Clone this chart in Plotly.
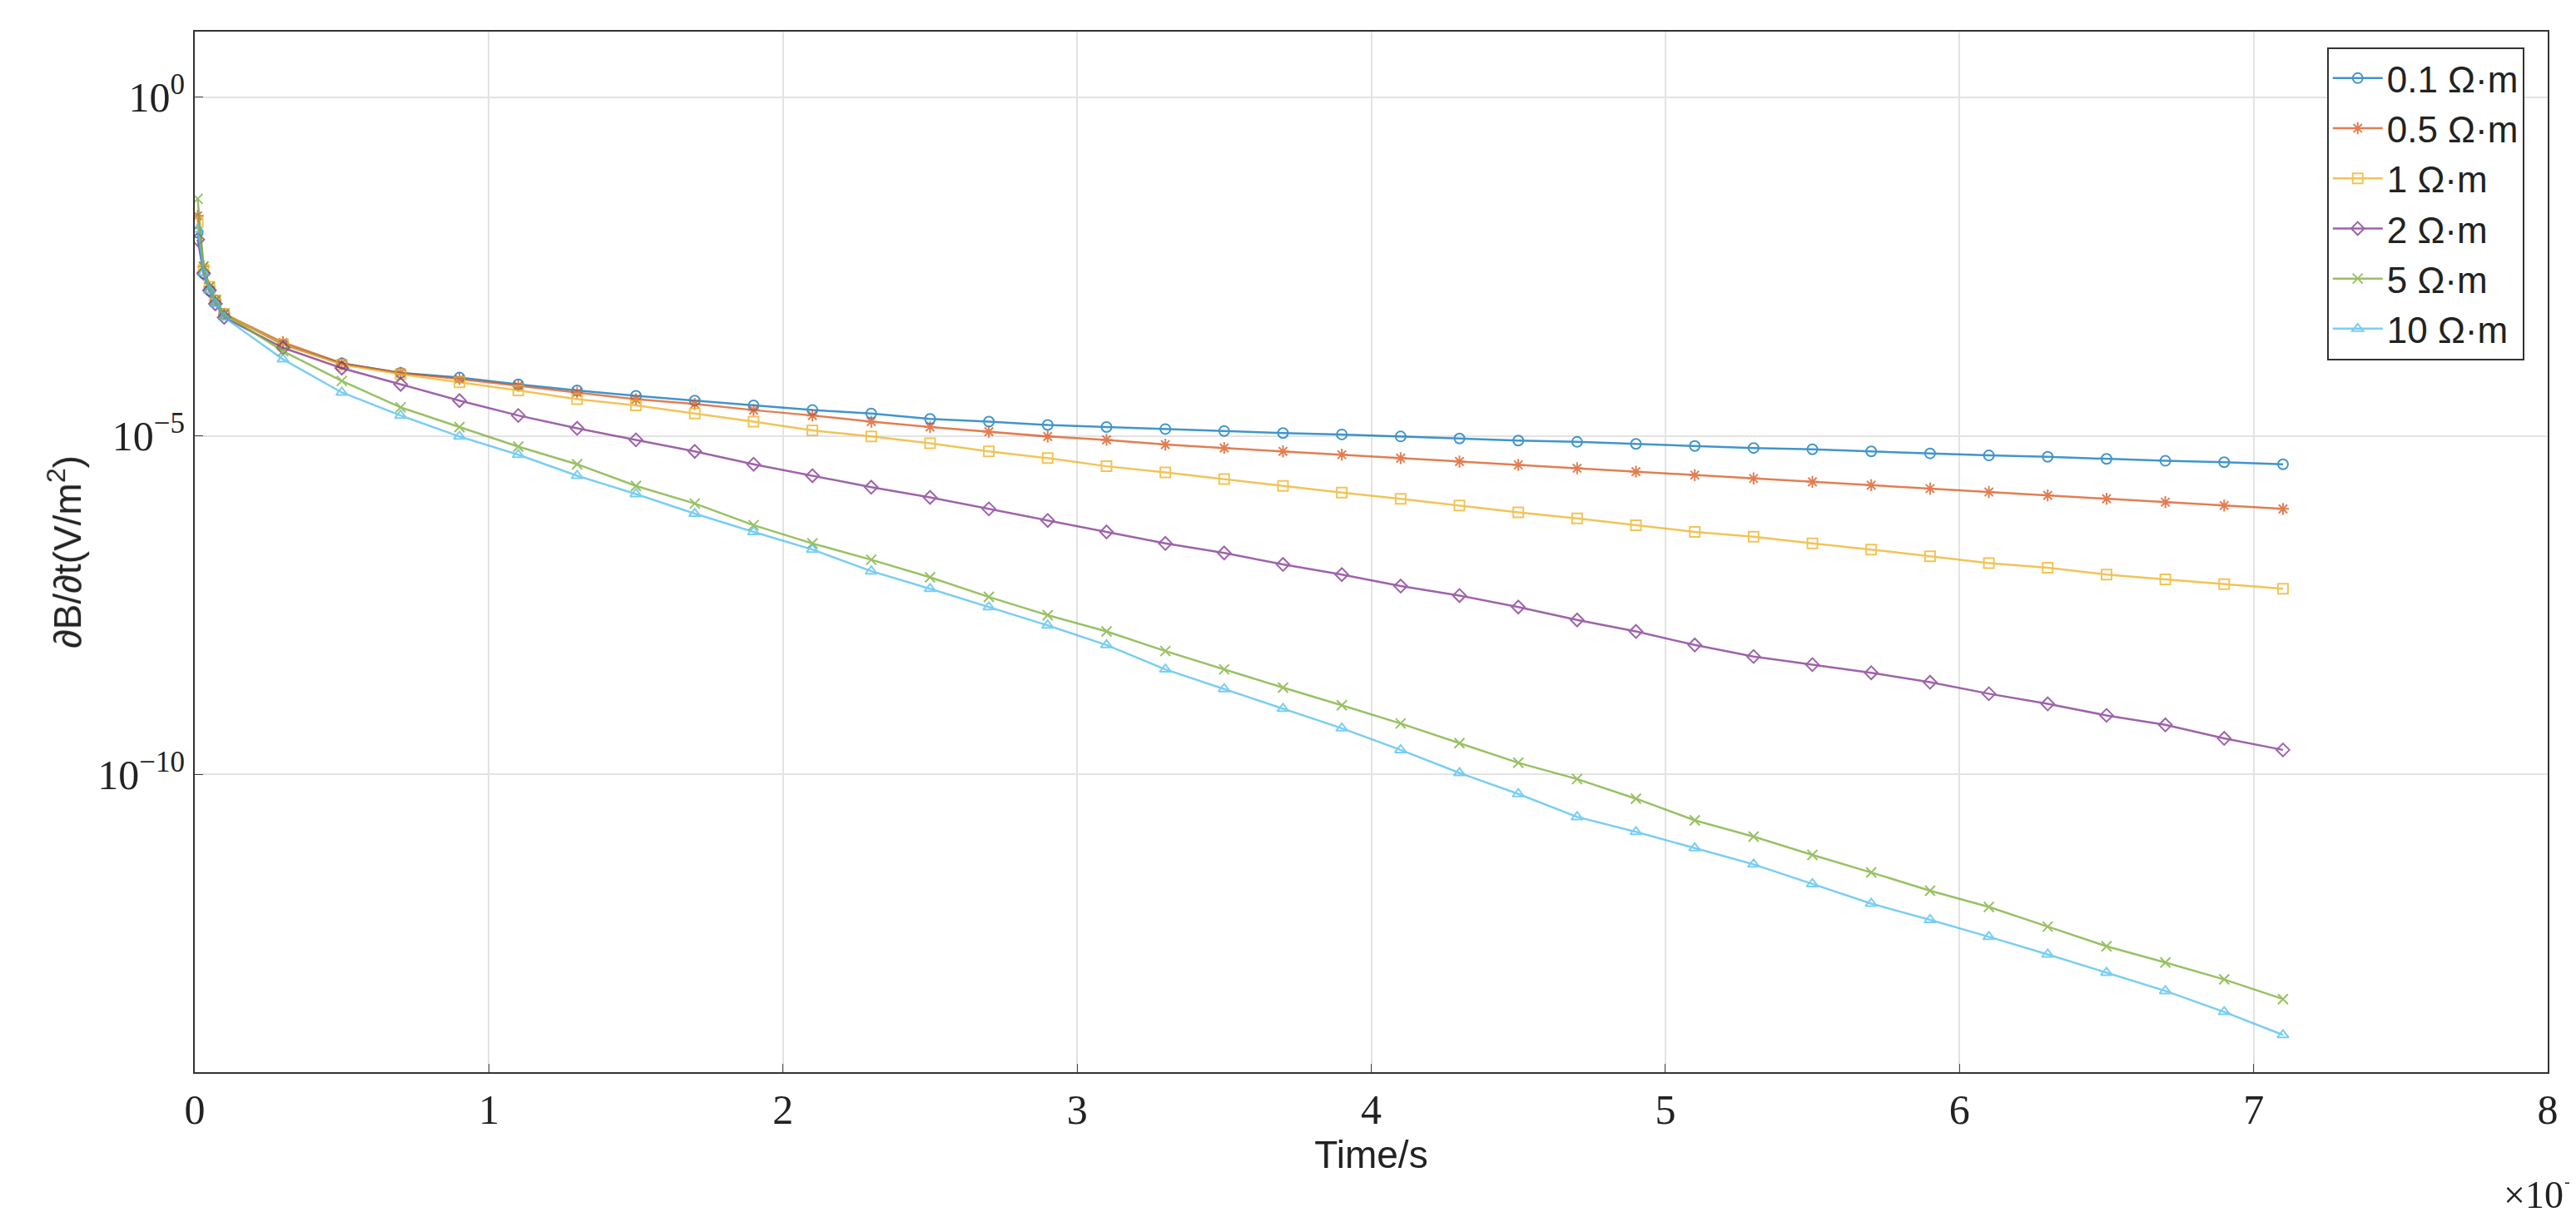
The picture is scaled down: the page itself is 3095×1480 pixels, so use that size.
import plotly.graph_objects as go

x_e4 = [0.01, 0.03, 0.05, 0.07, 0.1] + [round(0.3 + 0.2*i, 1) for i in range(35)]

log_01 = [-2.0, -2.6, -2.85, -3.0, -3.2, -3.65, -3.93, -4.07, -4.14, -4.24, -4.33, -4.41, -4.48, -4.55, -4.62, -4.67, -4.75, -4.79, -4.84, -4.87,
          -4.90, -4.93, -4.96, -4.98, -5.01, -5.04, -5.07, -5.09, -5.12, -5.15, -5.18, -5.20, -5.23, -5.26, -5.29, -5.31, -5.34, -5.37, -5.39, -5.42]
log_05 = [-1.75, -2.5, -2.8, -3.0, -3.2, -3.62, -3.93, -4.07, -4.16, -4.26, -4.36, -4.46, -4.53, -4.62, -4.70, -4.79, -4.87, -4.94, -5.01, -5.06,
          -5.13, -5.18, -5.23, -5.28, -5.33, -5.38, -5.43, -5.48, -5.53, -5.58, -5.63, -5.68, -5.73, -5.78, -5.83, -5.88, -5.93, -5.98, -6.03, -6.08]
log_1 = [-1.85, -2.55, -2.8, -3.0, -3.2, -3.65, -3.95, -4.09, -4.21, -4.33, -4.46, -4.55, -4.67, -4.79, -4.92, -5.01, -5.11, -5.23, -5.33, -5.45,
         -5.54, -5.64, -5.74, -5.84, -5.93, -6.03, -6.13, -6.22, -6.32, -6.42, -6.49, -6.59, -6.68, -6.78, -6.88, -6.95, -7.05, -7.12, -7.19, -7.26]
log_2 = [-2.1, -2.6, -2.85, -3.05, -3.25, -3.7, -4.0, -4.24, -4.48, -4.70, -4.89, -5.06, -5.23, -5.42, -5.59, -5.76, -5.91, -6.08, -6.25, -6.42,
         -6.59, -6.73, -6.90, -7.05, -7.22, -7.36, -7.53, -7.72, -7.89, -8.09, -8.26, -8.38, -8.50, -8.64, -8.81, -8.96, -9.13, -9.27, -9.47, -9.64]
log_5 = [-1.5, -2.5, -2.8, -3.0, -3.2, -3.75, -4.19, -4.58, -4.87, -5.16, -5.42, -5.74, -6.0, -6.32, -6.59, -6.83, -7.09, -7.38, -7.65, -7.89,
         -8.18, -8.45, -8.72, -8.98, -9.25, -9.54, -9.83, -10.07, -10.36, -10.68, -10.92, -11.19, -11.45, -11.72, -11.96, -12.25, -12.54, -12.78, -13.03, -13.32]
log_10 = [-1.95, -2.6, -2.85, -3.05, -3.25, -3.87, -4.36, -4.70, -5.01, -5.28, -5.59, -5.86, -6.15, -6.42, -6.68, -7.0, -7.26, -7.53, -7.80, -8.09,
          -8.45, -8.74, -9.03, -9.32, -9.64, -9.98, -10.29, -10.63, -10.85, -11.09, -11.33, -11.62, -11.91, -12.15, -12.40, -12.66, -12.93, -13.2, -13.51, -13.85]

names = ["0.1 Ω·m", "0.5 Ω·m", "1 Ω·m", "2 Ω·m", "5 Ω·m", "10 Ω·m"]
series = [log_01, log_05, log_1, log_2, log_5, log_10]
colors = ["#0072BD", "#D95319", "#EDB120", "#7E2F8E", "#77AC30", "#4DBEEE"]
symbols = ["circle-open", "asterisk-open", "square-open", "diamond-open", "x-thin-open", "triangle-up-open"]

fig = go.Figure()
for n, s, c, m in zip(names, series, colors, symbols):
    fig.add_trace(go.Scatter(x=x_e4, y=[10**v for v in s], name=n, mode="lines+markers",
                             line=dict(color=c, width=2.5), opacity=0.75,
                             marker=dict(symbol=m, size=12, color=c, line=dict(color=c, width=2))))

tickfont = dict(family="Liberation Serif", size=50, color="#222")
fig.update_layout(
    width=3095, height=1480, paper_bgcolor="white", plot_bgcolor="white",
    margin=dict(l=226, r=42, t=30, b=200),
    showlegend=True,
    legend=dict(x=0.99, y=0.985, xanchor="right", yanchor="top", bordercolor="#333", borderwidth=2,
                bgcolor="white", font=dict(family="Liberation Sans", size=44, color="#222"), tracegroupgap=0,
                itemwidth=60),
    xaxis=dict(range=[0, 8], tickvals=list(range(9)), tickfont=tickfont, showgrid=True, gridcolor="#e3e3e3",
               gridwidth=2, zeroline=False, showline=True, linecolor="#333", linewidth=2, mirror=True,
               ticks="inside", ticklen=10, title=dict(text="Time/s", font=dict(family="Liberation Sans", size=46, color="#222"), standoff=10)),
    yaxis=dict(type="log", range=[-14.4, 0.97], tickvals=[1, 1e-5, 1e-10],
               ticktext=["10<sup>0</sup>", "10<sup>−5</sup>", "10<sup>−10</sup>"], tickfont=tickfont,
               showgrid=True, gridcolor="#e3e3e3", gridwidth=2, zeroline=False, showline=True, linecolor="#333",
               linewidth=2, mirror=True, ticks="inside", ticklen=10,
               title=dict(text="∂B/∂t(V/m<sup>2</sup>)", font=dict(family="Liberation Sans", size=46, color="#222"), standoff=5)),
)
fig.add_annotation(xref="paper", yref="paper", x=1.0, y=-0.09, xanchor="center", yanchor="top", showarrow=False,
                   text="×10<sup>−4</sup>", font=dict(family="Liberation Serif", size=46, color="#222"))
fig.write_html("out.html")
